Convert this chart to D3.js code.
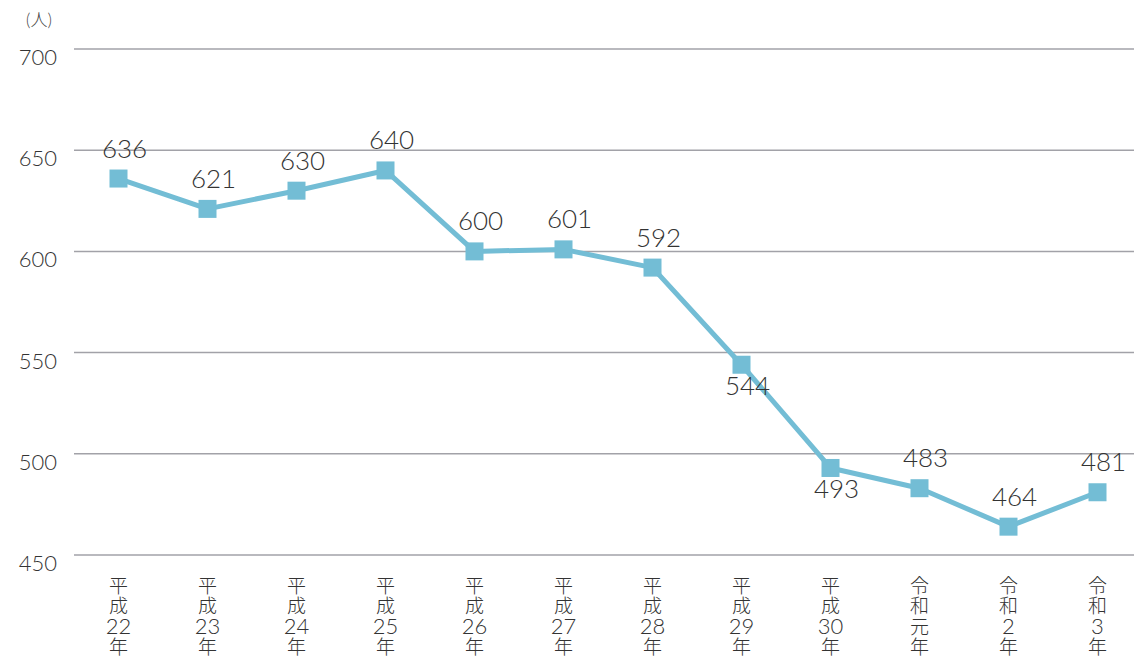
<!DOCTYPE html>
<html><head><meta charset="utf-8">
<script src="https://cdn.jsdelivr.net/npm/d3@7"></script>
<style>body{margin:0;background:#fff;} text{font-family:"Lato","Noto Sans","Noto Sans CJK JP",sans-serif;}</style>
</head><body>
<svg id="c" width="1134" height="657"></svg>
<script>
const categories = [["平","成","22","年"],["平","成","23","年"],["平","成","24","年"],["平","成","25","年"],["平","成","26","年"],["平","成","27","年"],["平","成","28","年"],["平","成","29","年"],["平","成","30","年"],["令","和","元","年"],["令","和","2","年"],["令","和","3","年"]];
const values = [636,621,630,640,600,601,592,544,493,483,464,481];
const labelBelow = [false,false,false,false,false,false,false,true,true,false,false,false];
const yTicks = [450,500,550,600,650,700];
const unit = "(人)";

const svg = d3.select("#c");
const x = d3.scalePoint().domain(d3.range(values.length)).range([74,1142]).padding(0.5);
const y = d3.scaleLinear().domain([450,700]).range([555,49]);

svg.append("g").selectAll("line").data(yTicks).join("line")
  .attr("x1",74).attr("x2",1134).attr("y1",d=>y(d)).attr("y2",d=>y(d))
  .attr("stroke","#a2a2a8").attr("stroke-width",1.5);
svg.append("g").selectAll("text").data(yTicks).join("text")
  .attr("x",57).attr("y",d=>y(d)+16).attr("text-anchor","end")
  .attr("font-size",22).attr("font-weight",300).attr("fill","#333").text(d=>d);
svg.append("text").attr("x",39).attr("y",26).attr("text-anchor","middle")
  .attr("font-size",17).attr("font-weight",300).attr("fill","#444").text(unit);

const line = d3.line().x((d,i)=>x(i)).y(d=>y(d));
svg.append("path").datum(values).attr("d",line).attr("fill","none")
  .attr("stroke","#73bdd5").attr("stroke-width",5).attr("stroke-linejoin","round");
svg.append("g").selectAll("rect").data(values).join("rect")
  .attr("x",(d,i)=>x(i)-9).attr("y",d=>y(d)-9).attr("width",18).attr("height",18)
  .attr("fill","#73bdd5");
svg.append("g").selectAll("text").data(values).join("text")
  .attr("x",(d,i)=>x(i)+6).attr("y",(d,i)=>labelBelow[i]? y(d)+30 : y(d)-21)
  .attr("text-anchor","middle").attr("font-size",26).attr("font-weight",300).attr("fill","#333").text(d=>d);

const xg = svg.append("g");
categories.forEach((c,i)=>{
  const t = xg.append("text").attr("text-anchor","middle").attr("fill","#333").attr("font-weight",300)
    .attr("x",x(i)).attr("y",593);
  c.forEach((s,j)=>{
    t.append("tspan").attr("x",x(i)).attr("dy", j===0 ? 0 : 20.3)
      .attr("font-size", /[0-9]/.test(s) ? 22 : 19).text(s);
  });
});
</script></body></html>
